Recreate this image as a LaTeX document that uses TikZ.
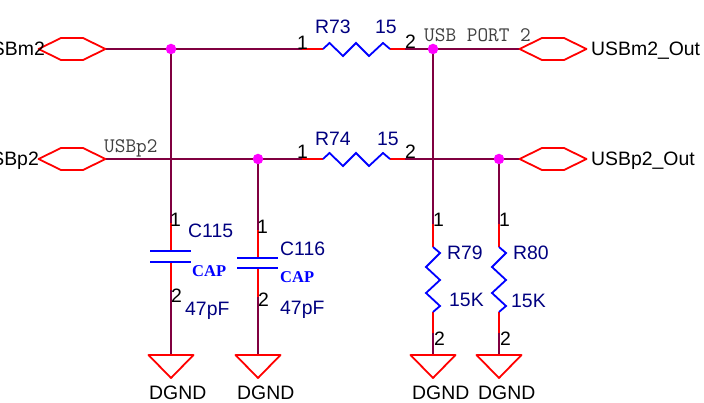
\documentclass[tikz,border=0pt]{standalone}
\usepackage{fontspec}
\usetikzlibrary{backgrounds}
\setmainfont{Liberation Sans}
\newfontfamily\capfont{Liberation Serif}
\setmonofont{Latin Modern Mono}
\definecolor{wire}{HTML}{800040}
\definecolor{navy}{HTML}{000080}
\definecolor{juncc}{HTML}{FF00FF}
\definecolor{pinred}{HTML}{FF0000}
\definecolor{bodyb}{HTML}{0000FF}
\tikzset{
  wirel/.style={draw=wire,line width=1.8pt},
  pinl/.style={draw=pinred,line width=1.8pt},
  bodyl/.style={draw=bodyb,line width=1.8pt},
  portl/.style={draw=pinred,line width=1.8pt,line join=round},
  junc/.style={circle,fill=juncc,draw=none,inner sep=0pt,minimum size=10.5pt},
  txt/.style={anchor=base west,inner sep=0pt,font=\fontsize{19.4}{19.4}\selectfont,text=black},
  txtr/.style={anchor=base east,inner sep=0pt,font=\fontsize{19.4}{19.4}\selectfont,text=black},
  refd/.style={txt,text=navy},
  capt/.style={anchor=base west,inner sep=0pt,font=\fontsize{16.5}{16.5}\capfont\bfseries\selectfont,text=bodyb},
  net/.style={anchor=base west,inner sep=0pt,font=\fontsize{20.7}{20.7}\ttfamily\selectfont,text=black!75},
  porthex/.pic={\draw[portl] (-33.5,0) -- (-11,-11) -- (11,-11) -- (33.5,0) -- (11,11) -- (-11,11) -- cycle;},
  gndsym/.pic={\draw[portl] (-22.5,0) -- (22.5,0) -- (0,23) -- cycle;}
}
\begin{document}
\begin{tikzpicture}[x=1pt,y=-1pt]
\useasboundingbox (0,0) rectangle (704,403);
% coordinates
\coordinate (pmL) at (105,49);
\coordinate (ppL) at (105,159);
\coordinate (pmR) at (520,49);
\coordinate (ppR) at (520,159);
\node[junc] (j1) at (171,49) {};
\node[junc] (j2) at (258,159) {};
\node[junc] (j3) at (433,49) {};
\node[junc] (j4) at (499,159) {};
\coordinate (r73a) at (302,49);
\coordinate (r73b) at (323,49);
\coordinate (r73c) at (390,49);
\coordinate (r73d) at (405,49);
\coordinate (r74a) at (302,159);
\coordinate (r74b) at (323,159);
\coordinate (r74c) at (390,159);
\coordinate (r74d) at (405,159);
\coordinate (g1) at (171,355);
\coordinate (g2) at (258,355);
\coordinate (g3) at (433,355);
\coordinate (g4) at (499,355);
\begin{scope}[on background layer]
% wires
\draw[wirel] (pmL) -- (r73a);
\draw[wirel] (ppL) -- (r74a);
\draw[wirel] (r73d) -- (pmR);
\draw[wirel] (r74d) -- (ppR);
\draw[wirel] (j1.center) -- (171,223);
\draw[wirel] (j2.center) -- (258,230);
\draw[wirel] (j3.center) -- (433,224);
\draw[wirel] (j4.center) -- (499,224);
\draw[wirel] (171,290) -- (g1);
\draw[wirel] (258,297) -- (g2);
\draw[wirel] (433,333) -- (g3);
\draw[wirel] (499,333) -- (g4);
\end{scope}
% red pins
\draw[pinl] (r73a) -- (r73b);
\draw[pinl] (r73c) -- (r73d);
\draw[pinl] (r74a) -- (r74b);
\draw[pinl] (r74c) -- (r74d);
\draw[pinl] (171,223) -- (171,250);
\draw[pinl] (171,262) -- (171,290);
\draw[pinl] (258,230) -- (258,257);
\draw[pinl] (258,268) -- (258,297);
\draw[pinl] (433,224) -- (433,247);
\draw[pinl] (433,312) -- (433,333);
\draw[pinl] (499,224) -- (499,247);
\draw[pinl] (499,312) -- (499,333);
% horizontal resistors
\draw[bodyl] (r73b) -- (329.5,43) -- (343,56) -- (356,43) -- (369,56) -- (383,43) -- (r73c);
\draw[bodyl] (r74b) -- (329.5,153) -- (343,166) -- (356,153) -- (369,166) -- (383,153) -- (r74c);
% vertical resistors
\draw[bodyl] (433,247) -- (440,253) -- (426,267) -- (440,280) -- (426,293) -- (440,306) -- (433,312);
\draw[bodyl] (499,247) -- (506,253) -- (492,267) -- (506,280) -- (492,293) -- (506,306) -- (499,312);
% capacitors
\draw[bodyl] (150,251) -- (191,251);
\draw[bodyl] (150,262) -- (191,262);
\draw[bodyl] (237,258) -- (278,258);
\draw[bodyl] (237,268) -- (278,268);
% ports and grounds
\pic at (72,49) {porthex};
\pic at (72,159) {porthex};
\pic at (553,49) {porthex};
\pic at (553,159) {porthex};
\pic at (g1) {gndsym};
\pic at (g2) {gndsym};
\pic at (g3) {gndsym};
\pic at (g4) {gndsym};
% texts
\node[txtr] (t1) at (45,56) {USBm2};
\node[txtr] (t2) at (39,166) {USBp2};
\node[txt] (t3) at (591,56) {USBm2\_Out};
\node[txt] (t4) at (591,166) {USBp2\_Out};
\node[net] (t5) at (104,153) {USBp2};
\node[net] (t6) at (424,42) {USB PORT 2};
\node[refd] (t7) at (315,34) {R73};
\node[refd] (t8) at (375,34) {15};
\node[refd] (t9) at (315,146) {R74};
\node[refd] (t10) at (377,146) {15};
\node[refd] (t11) at (188,238) {C115};
\node[refd] (t12) at (280,256) {C116};
\node[capt] (t13) at (192,277) {CAP};
\node[capt] (t14) at (280,283) {CAP};
\node[refd] (t15) at (185,316) {47pF};
\node[refd] (t16) at (280,314) {47pF};
\node[refd] (t17) at (447,260) {R79};
\node[refd] (t18) at (513,260) {R80};
\node[refd] (t19) at (449,306) {15K};
\node[refd] (t20) at (511,308) {15K};
\node[txt] (n1) at (297,50) {1};
\node[txt] (n2) at (297,159) {1};
\node[txt] (n3) at (405,49) {2};
\node[txt] (n4) at (405,159) {2};
\node[txt] (n5) at (170,227) {1};
\node[txt] (n6) at (171,303) {2};
\node[txt] (n7) at (257,234) {1};
\node[txt] (n8) at (258,307) {2};
\node[txt] (n9) at (433,227) {1};
\node[txt] (n10) at (434,345) {2};
\node[txt] (n11) at (499,227) {1};
\node[txt] (n12) at (500,345) {2};
\node[txt] (d1) at (149,399) {DGND};
\node[txt] (d2) at (237,399) {DGND};
\node[txt] (d3) at (412,399) {DGND};
\node[txt] (d4) at (478,399) {DGND};
\end{tikzpicture}
\end{document}
